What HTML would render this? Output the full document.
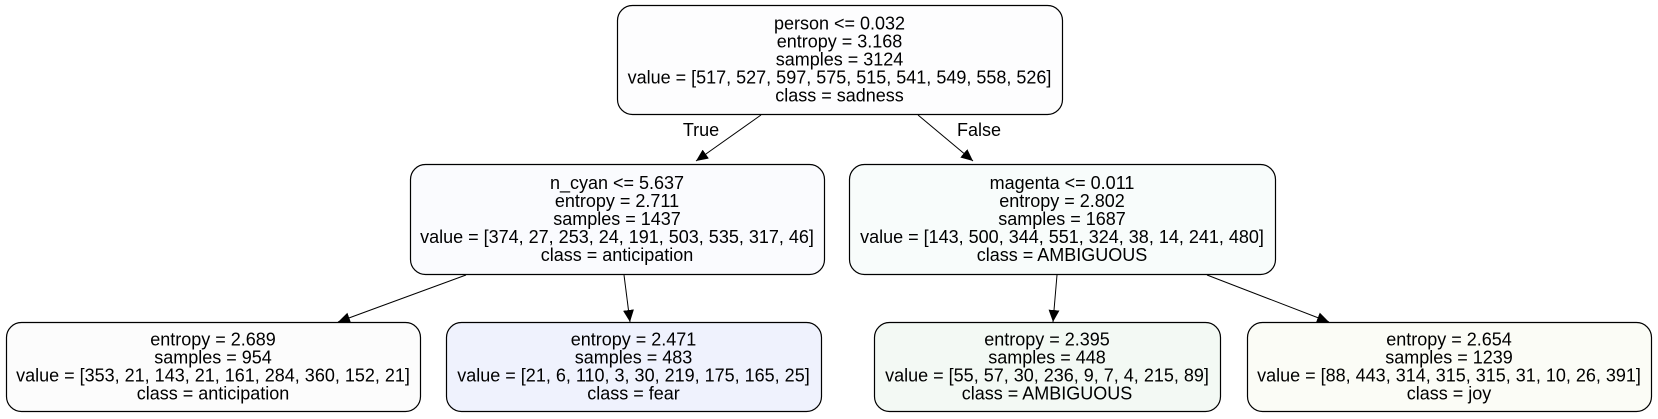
<!DOCTYPE html>
<html><head><meta charset="utf-8"><style>
html,body{margin:0;padding:0;background:#fff;width:1658px;height:419px;overflow:hidden}
svg text{font-family:"Liberation Sans",Arial,sans-serif;font-size:18px;fill:#000}
</style></head><body>
<svg id="tree" width="1658" height="419" viewBox="0 0 1658 419" xmlns="http://www.w3.org/2000/svg">
<defs><marker id="ah" markerWidth="12" markerHeight="12" refX="11" refY="5" orient="auto" markerUnits="userSpaceOnUse" viewBox="0 0 11 10"><path d="M0,0 L11,5 L0,10 z" fill="#000"/></marker></defs>
</svg>
<script>
const nodes=[
 {name:'root-node',x:617,y:5,w:445,h:109,fill:'#fdfdfe',lines:['person <= 0.032','entropy = 3.168','samples = 3124','value = [517, 527, 597, 575, 515, 541, 549, 558, 526]','class = sadness']},
 {name:'n-cyan-node',x:410,y:164,w:414,h:110,fill:'#fafbfe',lines:['n_cyan <= 5.637','entropy = 2.711','samples = 1437','value = [374, 27, 253, 24, 191, 503, 535, 317, 46]','class = anticipation']},
 {name:'magenta-node',x:849,y:164,w:426,h:110,fill:'#f8fcfb',lines:['magenta <= 0.011','entropy = 2.802','samples = 1687','value = [143, 500, 344, 551, 324, 38, 14, 241, 480]','class = AMBIGUOUS']},
 {name:'leaf-anticipation',x:6,y:322,w:414,h:89,fill:'#fcfcfc',lines:['entropy = 2.689','samples = 954','value = [353, 21, 143, 21, 161, 284, 360, 152, 21]','class = anticipation']},
 {name:'leaf-fear',x:446,y:322,w:375,h:89,fill:'#eff2fd',lines:['entropy = 2.471','samples = 483','value = [21, 6, 110, 3, 30, 219, 175, 165, 25]','class = fear']},
 {name:'leaf-ambiguous',x:874,y:322,w:346,h:89,fill:'#f3f9f4',lines:['entropy = 2.395','samples = 448','value = [55, 57, 30, 236, 9, 7, 4, 215, 89]','class = AMBIGUOUS']},
 {name:'leaf-joy',x:1247,y:322,w:404,h:89,fill:'#fbfcf6',lines:['entropy = 2.654','samples = 1239','value = [88, 443, 314, 315, 315, 31, 10, 26, 391]','class = joy']}
];
const edges=[[761,115,696,161],[918,115,973,161],[466,275,338,322],[624,275,630,322],[1057,275,1053,322],[1207,275,1329,322]];
const svg=document.getElementById('tree');
const NS='http://www.w3.org/2000/svg';
edges.forEach(e=>{
 const l=document.createElementNS(NS,'line');
 l.setAttribute('x1',e[0]);l.setAttribute('y1',e[1]);l.setAttribute('x2',e[2]);l.setAttribute('y2',e[3]);
 l.setAttribute('stroke','#000');l.setAttribute('stroke-width','1');l.setAttribute('marker-end','url(#ah)');
 
 
 svg.appendChild(l);
});
[['True',701,131,'true-edge-label'],['False',979,131,'false-edge-label']].forEach(t=>{
 const tx=document.createElementNS(NS,'text');
 tx.setAttribute('x',t[1]);tx.setAttribute('y',t[2]);tx.setAttribute('text-anchor','middle');tx.setAttribute('dominant-baseline','middle');
 tx.textContent=t[0];
 
 
 svg.appendChild(tx);
});
nodes.forEach(n=>{
 const g=document.createElementNS(NS,'g');
 
 
 const r=document.createElementNS(NS,'rect');
 r.setAttribute('x',n.x+0.5);r.setAttribute('y',n.y+0.5);r.setAttribute('width',n.w);r.setAttribute('height',n.h);
 r.setAttribute('rx',15);r.setAttribute('fill',n.fill);r.setAttribute('stroke','#000');r.setAttribute('stroke-width','1.2');
 g.appendChild(r);
 const cx=n.x+n.w/2, cy=n.y+n.h/2+1, k=n.lines.length;
 n.lines.forEach((s,i)=>{
  const t=document.createElementNS(NS,'text');
  t.setAttribute('x',cx);t.setAttribute('y',cy+(i-(k-1)/2)*18);
  t.setAttribute('text-anchor','middle');t.setAttribute('dominant-baseline','middle');
  t.textContent=s;
  
  
  g.appendChild(t);
 });
 svg.appendChild(g);
});
</script>
</body></html>
